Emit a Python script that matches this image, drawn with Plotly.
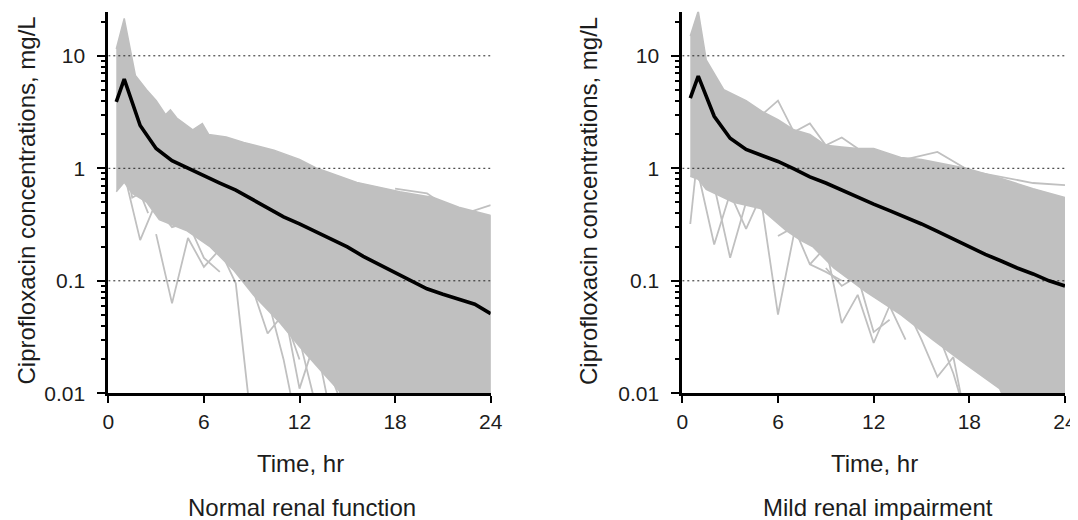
import plotly.graph_objects as go

# ---------------- data ----------------
time_hr = [0.5, 1, 2, 3, 4, 5, 6, 7, 8, 9, 10, 11, 12, 13, 14, 15, 16, 17, 18, 19, 20, 21, 22, 23, 24]

# median profiles (black lines)
median_normal = [3.9, 6.2, 2.4, 1.5, 1.17, 1.0, 0.87, 0.74, 0.64, 0.53, 0.44, 0.37, 0.32, 0.275, 0.235,
                 0.2, 0.165, 0.14, 0.12, 0.102, 0.085, 0.076, 0.068, 0.062, 0.051]
median_mild = [4.2, 6.6, 2.9, 1.85, 1.47, 1.3, 1.15, 0.99, 0.84, 0.74, 0.64, 0.55, 0.48, 0.42, 0.37,
               0.32, 0.275, 0.235, 0.2, 0.172, 0.15, 0.13, 0.115, 0.1, 0.09]

# envelope of the dense grey band of simulated profiles
normal_upper_t = [0.5, 1, 1.7, 2.4, 3, 3.6, 3.9, 4.3, 5.3, 5.9, 6.3, 7.4, 8.5, 10.4, 12, 13.1, 15.6, 18.3, 20.4, 22, 24]
normal_upper_c = [11.5, 21.5, 6.7, 5.0, 4.0, 3.0, 3.3, 2.8, 2.2, 2.5, 2.0, 1.9, 1.7, 1.45, 1.2, 1.0, 0.75, 0.62, 0.55, 0.45, 0.38]
normal_lower_t = [0.5, 1, 1.5, 2.4, 3.2, 4.9, 6.4, 7.85, 9.1, 10.8, 12, 13.5, 14.5, 15, 24]
normal_lower_c = [0.62, 0.75, 0.6, 0.5, 0.35, 0.28, 0.2, 0.125, 0.075, 0.042, 0.026, 0.015, 0.0105, 0.005, 0.005]

mild_upper_t = [0.5, 1, 1.5, 2.6, 4, 5, 6, 7, 8, 9, 10, 11, 12, 13.7, 15, 17.8, 19.9, 22, 24]
mild_upper_c = [15, 25, 9.2, 5.0, 4.0, 3.2, 2.7, 2.2, 2.0, 1.6, 1.55, 1.5, 1.5, 1.25, 1.2, 1.0, 0.82, 0.66, 0.55]
mild_lower_t = [0.5, 1, 1.5, 3.2, 4.9, 6.5, 7.4, 8.2, 9.5, 11.5, 13.7, 15.7, 17.8, 19.9, 21, 24]
mild_lower_c = [0.85, 0.8, 0.65, 0.5, 0.44, 0.28, 0.23, 0.2, 0.13, 0.08, 0.05, 0.03, 0.018, 0.011, 0.005, 0.005]

# individual stray simulated profiles visible outside the dense band
normal_stray_1_t = [3, 4, 5, 6, 7, 8, 9]
normal_stray_1_c = [0.26, 0.063, 0.24, 0.133, 0.19, 0.095, 0.005]
normal_stray_2_t = [6, 7, 8, 9, 10, 11, 12]
normal_stray_2_c = [0.3, 0.2, 0.14, 0.09, 0.034, 0.051, 0.02]
normal_stray_3_t = [9, 10, 11, 12]
normal_stray_3_c = [0.12, 0.07, 0.02, 0.004]
normal_stray_4_t = [10, 11, 12, 13, 14]
normal_stray_4_c = [0.1, 0.06, 0.011, 0.03, 0.006]
normal_stray_5_t = [1, 2, 3]
normal_stray_5_c = [0.9, 0.23, 0.5]
normal_stray_6_t = [18, 20, 22, 24]
normal_stray_6_c = [0.66, 0.6, 0.38, 0.47]
normal_stray_7_t = [1, 1.5, 2, 2.5]
normal_stray_7_c = [1.3, 0.55, 0.6, 0.4]
normal_stray_8_t = [8, 9, 10, 11, 12, 13]
normal_stray_8_c = [0.2, 0.1, 0.06, 0.045, 0.03, 0.008]
normal_stray_9_t = [10, 11, 12, 13, 14, 15]
normal_stray_9_c = [0.12, 0.08, 0.04, 0.025, 0.014, 0.006]
normal_stray_10_t = [3, 4, 5, 6, 7]
normal_stray_10_c = [0.45, 0.3, 0.33, 0.16, 0.12]

mild_stray_1_t = [5, 6, 7, 8, 9, 10, 11]
mild_stray_1_c = [3.0, 4.0, 2.1, 2.5, 1.6, 1.88, 1.5]
mild_stray_2_t = [14, 16, 18]
mild_stray_2_c = [1.2, 1.4, 0.95]
mild_stray_3_t = [18, 20, 22, 24]
mild_stray_3_c = [0.95, 0.84, 0.74, 0.71]
mild_stray_4_t = [0.5, 1]
mild_stray_4_c = [0.32, 1.5]
mild_stray_5_t = [1, 2, 3, 4, 5]
mild_stray_5_c = [0.9, 0.21, 0.6, 0.29, 0.6]
mild_stray_6_t = [2, 3, 4]
mild_stray_6_c = [0.7, 0.16, 0.5]
mild_stray_7_t = [5, 6, 7]
mild_stray_7_c = [0.46, 0.05, 0.26]
mild_stray_8_t = [8, 9, 10, 11, 12, 13, 14]
mild_stray_8_c = [0.14, 0.2, 0.042, 0.075, 0.028, 0.06, 0.03]
mild_stray_9_t = [14, 15, 16, 17, 18]
mild_stray_9_c = [0.06, 0.03, 0.014, 0.021, 0.004]
mild_stray_10_t = [15, 16, 17, 18]
mild_stray_10_c = [0.06, 0.035, 0.015, 0.005]
mild_stray_11_t = [6, 7, 8, 9, 10]
mild_stray_11_c = [0.25, 0.3, 0.14, 0.12, 0.1]
mild_stray_12_t = [9, 10, 11, 12, 13]
mild_stray_12_c = [0.13, 0.09, 0.11, 0.035, 0.045]

grid_levels = [10, 1, 0.1]
x_ticks = [0, 6, 12, 18, 24]
y_ticks = [0.01, 0.1, 1, 10]
y_ticktext = ["0.01", "0.1", "1", "10"]
y_minor_ticks = [0.02, 0.03, 0.04, 0.05, 0.06, 0.07, 0.08, 0.09,
                 0.2, 0.3, 0.4, 0.5, 0.6, 0.7, 0.8, 0.9,
                 2, 3, 4, 5, 6, 7, 8, 9, 20]

panel_titles = ["Normal renal function", "Mild renal impairment"]
x_title = "Time, hr"
y_title = "Ciprofloxacin concentrations, mg/L"

# ---------------- figure ----------------
GREY = "rgb(192,192,192)"
TXT = "#1c1c1c"
FONT = "Liberation Sans, Arial, sans-serif"

fig = go.Figure()

panels = [
    dict(xa="x", ya="y", med=median_normal,
         ut=normal_upper_t, uc=normal_upper_c, lt=normal_lower_t, lc=normal_lower_c,
         strays=[(normal_stray_1_t, normal_stray_1_c), (normal_stray_2_t, normal_stray_2_c),
                 (normal_stray_3_t, normal_stray_3_c), (normal_stray_4_t, normal_stray_4_c),
                 (normal_stray_5_t, normal_stray_5_c), (normal_stray_6_t, normal_stray_6_c),
                 (normal_stray_7_t, normal_stray_7_c), (normal_stray_8_t, normal_stray_8_c),
                 (normal_stray_9_t, normal_stray_9_c), (normal_stray_10_t, normal_stray_10_c)]),
    dict(xa="x2", ya="y2", med=median_mild,
         ut=mild_upper_t, uc=mild_upper_c, lt=mild_lower_t, lc=mild_lower_c,
         strays=[(mild_stray_1_t, mild_stray_1_c), (mild_stray_2_t, mild_stray_2_c),
                 (mild_stray_3_t, mild_stray_3_c), (mild_stray_4_t, mild_stray_4_c),
                 (mild_stray_5_t, mild_stray_5_c), (mild_stray_6_t, mild_stray_6_c),
                 (mild_stray_7_t, mild_stray_7_c), (mild_stray_8_t, mild_stray_8_c),
                 (mild_stray_9_t, mild_stray_9_c), (mild_stray_10_t, mild_stray_10_c),
                 (mild_stray_11_t, mild_stray_11_c), (mild_stray_12_t, mild_stray_12_c)]),
]

for p in panels:
    band_x = list(p["ut"]) + list(reversed(p["lt"]))
    band_y = list(p["uc"]) + list(reversed(p["lc"]))
    fig.add_trace(go.Scatter(x=band_x, y=band_y, xaxis=p["xa"], yaxis=p["ya"], mode="lines",
                             fill="toself", fillcolor=GREY, line=dict(color=GREY, width=1.5),
                             hoverinfo="skip"))
    for st, sc in p["strays"]:
        fig.add_trace(go.Scatter(x=st, y=sc, xaxis=p["xa"], yaxis=p["ya"], mode="lines",
                                 line=dict(color=GREY, width=1.8), hoverinfo="skip"))
    for g in grid_levels:
        fig.add_trace(go.Scatter(x=[x_ticks[0], x_ticks[-1]], y=[g, g], xaxis=p["xa"], yaxis=p["ya"],
                                 mode="lines", line=dict(color="#222222", width=1, dash="2px,3px"),
                                 hoverinfo="skip"))
    fig.add_trace(go.Scatter(x=time_hr, y=p["med"], xaxis=p["xa"], yaxis=p["ya"], mode="lines",
                             line=dict(color="black", width=3.6), hoverinfo="skip"))

# the page body has an 8px default margin: positions below are screen pixels, shifted by it
OFF = 8
W, H = 1078 - OFF, 520 - OFF
def px_x(v):
    return (v - OFF) / W
def px_y(v):
    return 1 - (v - OFF) / H

xcommon = dict(range=[0, 24], tickvals=x_ticks, ticks="outside", ticklen=7, tickwidth=2,
               tickcolor="black", showline=True, linewidth=2.8, linecolor="black",
               showgrid=False, zeroline=False, tickfont=dict(size=21, color=TXT, family=FONT),
               ticklabelstandoff=1, automargin=False)
ycommon = dict(type="log", range=[-2, 1.392], tickvals=y_ticks, ticktext=y_ticktext,
               ticks="outside", ticklen=8, tickwidth=2, tickcolor="black",
               minor=dict(ticks="outside", ticklen=4, tickwidth=1.5, tickcolor="black",
                          tickvals=y_minor_ticks, showgrid=False),
               showline=True, linewidth=2.8, linecolor="black", showgrid=False, zeroline=False,
               tickfont=dict(size=21, color=TXT, family=FONT), ticklabelstandoff=8,
               automargin=False, domain=[px_y(393.3), px_y(11.7)])

fig.update_layout(
    width=W, height=H, margin=dict(l=0, r=0, t=0, b=0, autoexpand=False),
    paper_bgcolor="white", plot_bgcolor="white", showlegend=False,
    font=dict(family=FONT, color=TXT),
    xaxis=dict(domain=[px_x(108.3), px_x(490.7)], anchor="y", **xcommon),
    yaxis=dict(anchor="x", **ycommon),
    xaxis2=dict(domain=[px_x(682.3), px_x(1065)], anchor="y2", **xcommon),
    yaxis2=dict(anchor="x2", **ycommon),
)

annots = [
    (25.5, 201, y_title, -90),
    (588, 201, y_title, -90),
    (300, 463, x_title, 0),
    (874, 463, x_title, 0),
    (302, 507, panel_titles[0], 0),
    (878, 507, panel_titles[1], 0),
]
for ax_, ay_, txt, ang in annots:
    fig.add_annotation(x=px_x(ax_), y=px_y(ay_), xref="paper", yref="paper", text=txt,
                       textangle=ang, showarrow=False, xanchor="center", yanchor="middle",
                       font=dict(size=24, color=TXT, family=FONT))

fig.write_html("out.html")
